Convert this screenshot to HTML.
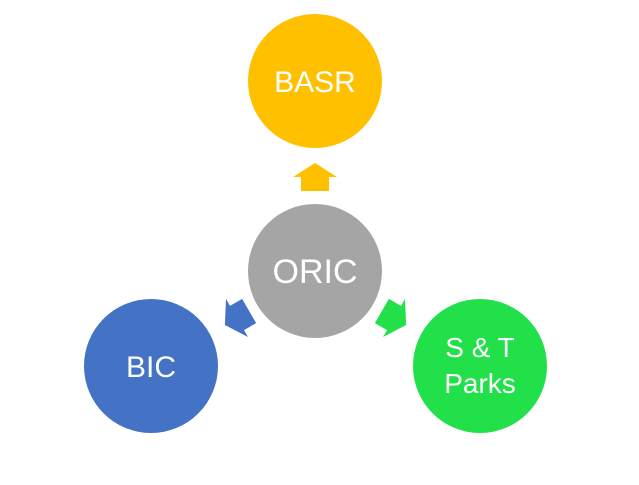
<!DOCTYPE html>
<html><head><style>body{margin:0;background:#fff}svg{display:block}</style></head><body>
<svg width="639" height="485" viewBox="0 0 639 485" font-family="Liberation Sans, sans-serif">
<defs><polygon id="a" points="0,-14 22,0 14,0 14,14 -14,14 -14,0 -22,0"/></defs>
<circle cx="315" cy="81" r="67" fill="#ffc000"/>
<circle cx="315" cy="271" r="67" fill="#a5a5a5"/>
<circle cx="151" cy="366" r="67" fill="#4472c4"/>
<circle cx="480" cy="366" r="67" fill="#22e04a"/>
<use href="#a" fill="#ffc000" transform="translate(315,177)"/>
<use href="#a" fill="#4472c4" transform="translate(237,318) rotate(-120)"/>
<use href="#a" fill="#22e04a" transform="translate(394,318) rotate(120)"/>
<g fill="#fff" text-anchor="middle">
<text x="315" y="92" font-size="30">BASR</text>
<text x="315" y="283" font-size="34">ORIC</text>
<text x="151" y="377" font-size="30">BIC</text>
<text x="480" y="357" font-size="28">S &amp; T</text>
<text x="480" y="393" font-size="28">Parks</text>
</g>
</svg>
</body></html>
